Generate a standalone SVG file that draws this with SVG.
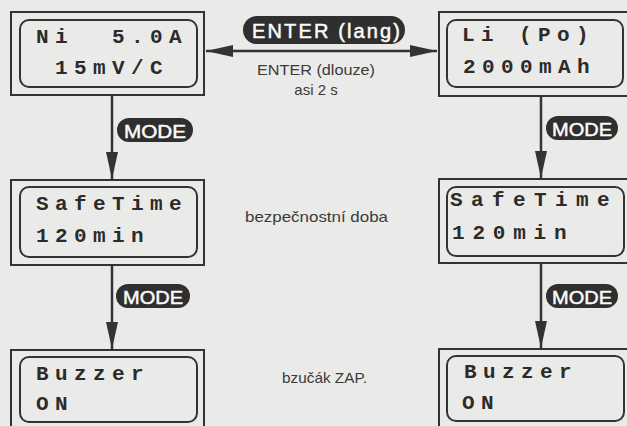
<svg xmlns="http://www.w3.org/2000/svg" width="627" height="426" viewBox="0 0 627 426">
<defs>
<style>
.outer{fill:none;stroke:#333;stroke-width:2}
.inner{fill:none;stroke:#333;stroke-width:2}
.lcd{font-family:"Liberation Mono","DejaVu Sans Mono",monospace;font-weight:bold;font-size:21px;fill:#2b2b2b;white-space:pre;letter-spacing:6.4px}
.pill{fill:#2f2f2f}
.pilltxt{font-family:"Liberation Sans",Arial,sans-serif;font-size:19px;fill:#fff;stroke:#f4f4f4;stroke-width:0.5}
.lbl{font-family:"Liberation Sans",Arial,sans-serif;font-size:15px;fill:#3a3a3a}
.conn{fill:none;stroke:#333;stroke-width:2.5}
</style>
<marker id="ah" markerUnits="userSpaceOnUse" markerWidth="28" markerHeight="12" refX="27" refY="6" orient="auto-start-reverse">
<path d="M0,0 L27,6 L0,12 z" fill="#333"/>
</marker>
</defs>
<rect width="627" height="426" fill="#eaeae8"/>

<g id="connectors">
<path class="conn" d="M206,51 H437" marker-start="url(#ah)" marker-end="url(#ah)"/>
<path class="conn" d="M112,95 V179"  marker-end="url(#ah)"/>
<path class="conn" d="M112,265 V349" marker-end="url(#ah)"/>
<path class="conn" d="M541,96 V178" marker-end="url(#ah)"/>
<path class="conn" d="M541,263 V348" marker-end="url(#ah)"/>
</g>

<g id="label-enter-lang">
<rect class="pill" x="243" y="16" width="162" height="28" rx="14"/>
<text class="pilltxt" x="252" y="37.5" textLength="148" lengthAdjust="spacing" style="font-size:20px">ENTER (lang)</text>
</g>
<g id="label-enter-dlouze">
<text class="lbl" x="316" y="75" text-anchor="middle" textLength="118" lengthAdjust="spacingAndGlyphs">ENTER (dlouze)</text>
<text class="lbl" x="316" y="95" text-anchor="middle">asi 2 s</text>
</g>

<g id="mode-left-1">
<rect class="pill" x="117" y="118" width="76" height="24" rx="12"/>
<text class="pilltxt" x="155" y="137.5" text-anchor="middle" textLength="62" lengthAdjust="spacingAndGlyphs">MODE</text>
</g>
<g id="mode-left-2">
<rect class="pill" x="116" y="284" width="74" height="24" rx="12"/>
<text class="pilltxt" x="153" y="303.5" text-anchor="middle" textLength="60" lengthAdjust="spacingAndGlyphs">MODE</text>
</g>
<g id="mode-right-1">
<rect class="pill" x="546" y="116" width="72" height="24" rx="12"/>
<text class="pilltxt" x="582" y="135.5" text-anchor="middle" textLength="60" lengthAdjust="spacingAndGlyphs">MODE</text>
</g>
<g id="mode-right-2">
<rect class="pill" x="546" y="284" width="72" height="24" rx="12"/>
<text class="pilltxt" x="582" y="303.5" text-anchor="middle" textLength="60" lengthAdjust="spacingAndGlyphs">MODE</text>
</g>

<g id="node-ni">
<rect class="outer" x="11" y="12" width="193" height="83"/>
<rect class="inner" x="20" y="20" width="177" height="67" rx="9"/>
<text class="lcd" x="36" y="43">Ni  5.0A</text>
<text class="lcd" x="36" y="74"> 15mV/C</text>
</g>
<g id="node-safetime-left">
<rect class="outer" x="11" y="180" width="193" height="85"/>
<rect class="inner" x="20" y="187" width="177" height="70" rx="9"/>
<text class="lcd" x="36" y="210">SafeTime</text>
<text class="lcd" x="36" y="242">120min</text>
</g>
<g id="node-buzzer-left">
<rect class="outer" x="11" y="350" width="193" height="100"/>
<rect class="inner" x="20" y="357" width="177" height="65" rx="9"/>
<text class="lcd" x="36" y="380">Buzzer</text>
<text class="lcd" x="36" y="410">ON</text>
</g>

<g id="node-li">
<rect class="outer" x="439" y="12" width="195" height="84"/>
<rect class="inner" x="447" y="20" width="176" height="67" rx="9"/>
<text class="lcd" x="462" y="41">Li (Po)</text>
<text class="lcd" x="463" y="73">2000mAh</text>
</g>
<g id="node-safetime-right">
<rect class="outer" x="439" y="179" width="195" height="84"/>
<rect class="inner" x="447" y="187" width="177" height="69" rx="9"/>
<text class="lcd" x="450" y="206" style="letter-spacing:8.4px">SafeTime</text>
<text class="lcd" x="452" y="239" style="letter-spacing:7.8px">120min</text>
</g>
<g id="node-buzzer-right">
<rect class="outer" x="439" y="349" width="195" height="100"/>
<rect class="inner" x="447" y="356" width="177" height="65" rx="9"/>
<text class="lcd" x="464" y="378">Buzzer</text>
<text class="lcd" x="462" y="409">ON</text>
</g>

<g id="label-bezpecnostni">
<text class="lbl" x="245" y="222" textLength="143" lengthAdjust="spacingAndGlyphs">bezpečnostní doba</text>
</g>
<g id="label-bzucak">
<text class="lbl" x="282" y="383" textLength="85" lengthAdjust="spacingAndGlyphs">bzučák ZAP.</text>
</g>
</svg>
